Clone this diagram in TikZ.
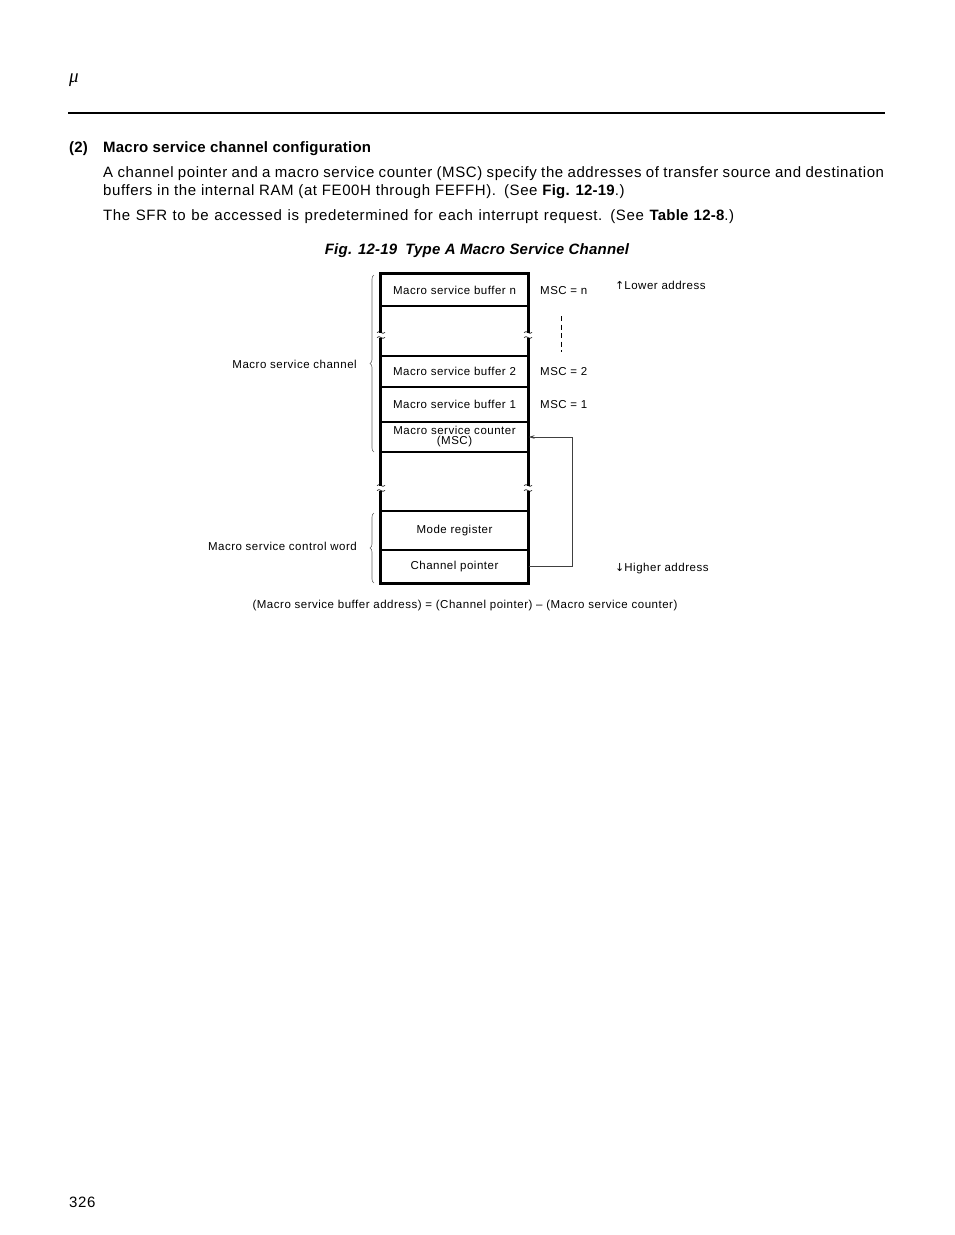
\documentclass[tikz,border=0pt]{standalone}
\usepackage{fontspec}
\setmainfont{Liberation Sans}
\newfontfamily\bodyfont[LetterSpace=4.0]{Liberation Sans}
\newfontfamily\headfont[LetterSpace=1.5]{Liberation Sans}
\newfontfamily\lblfont[LetterSpace=4.5]{Liberation Sans}
\newfontfamily\arrowfont{DejaVu Sans}
\newfontfamily\mufont{Liberation Serif}
\usetikzlibrary{decorations.pathreplacing,arrows.meta}
\begin{document}
\begin{tikzpicture}[x=1pt,y=-1pt,
  cell/.style={draw, line width=1.1pt, minimum width=147pt, inner sep=0pt, font=\lblfont\fontsize{11.5}{11.5}\selectfont, align=center},
  lbl/.style={font=\lblfont\fontsize{11.5}{12}\selectfont, inner sep=0pt},
  body/.style={font=\bodyfont\fontsize{15}{17}\selectfont, inner sep=0pt, anchor=west},
  bracestyle/.style={draw=black!60, line width=0.6pt, decorate, decoration={brace, amplitude=4pt}},
  frame/.style={line width=2.3pt},
  conn/.style={draw=black!75, line width=0.8pt}]
\useasboundingbox[fill=white] (0,0) rectangle (954,1235);

% header
\node[inner sep=0pt, font=\mufont\itshape\fontsize{19}{19}\selectfont] (mu) at (74,80) {μ};
\draw[line width=2.5pt] (68,113) -- (885,113);

\node[body, font=\headfont\fontsize{15}{17}\selectfont\bfseries] (num) at (69,149) {(2)};
\node[body, font=\headfont\fontsize{15}{17}\selectfont\bfseries] (head) at (103,149) {Macro service channel configuration};
\node[body] (l1) at (103,174) {\makebox[781pt][s]{A channel pointer and a macro service counter (MSC) specify the addresses of transfer source and destination}};
\node[body] (l2) at (103,192) {buffers in the internal RAM (at FE00H through FEFFH).\hspace{8pt}(See {\headfont\bfseries Fig. 12-19}.)};
\node[body] (l3) at (103,217) {\makebox[631pt][s]{The SFR to be accessed is predetermined for each interrupt request.\hspace{8pt}(See {\headfont\bfseries Table 12-8}.)}};

\node[inner sep=0pt, font=\headfont\fontsize{15}{17}\selectfont\bfseries\itshape] (cap) at (477,251) {Fig. 12-19\hspace{8pt}Type A Macro Service Channel};

% cells
\node[cell, minimum height=32pt] (bn) at (454.5,290) {Macro service buffer n};
\node[cell, minimum height=50pt] (g1) at (454.5,331) {};
\node[cell, minimum height=31pt] (b2) at (454.5,371.5) {Macro service buffer 2};
\node[cell, minimum height=35pt] (b1) at (454.5,404.5) {Macro service buffer 1};
\node[cell, minimum height=30pt] (msc) at (454.5,437) {Macro service counter\\[-1.5pt](MSC)};
\node[cell, minimum height=59pt] (g2) at (454.5,481.5) {};
\node[cell, minimum height=39pt] (mode) at (454.5,530.5) {Mode register};
\node[cell, minimum height=33pt] (cp) at (454.5,566.5) {Channel pointer};
\draw[frame] (bn.north west) rectangle (cp.south east);

% break marks
\foreach \bx/\by in {381/335, 528/335, 381/488, 528/488}{
  \fill[white] (\bx-3,\by-2.5) rectangle (\bx+3,\by+2.5);
  \draw[line width=0.6pt] (\bx-4,\by-2.5) .. controls (\bx-1,\by-5.5) and (\bx+1,\by+0.5) .. (\bx+4,\by-2.5);
  \draw[line width=0.6pt] (\bx-4,\by+2.5) .. controls (\bx-1,\by-0.5) and (\bx+1,\by+5.5) .. (\bx+4,\by+2.5);
}

% braces
\coordinate (c1b) at (374,452);
\coordinate (c1t) at (374,275);
\coordinate (c2b) at (374,583);
\coordinate (c2t) at (374,513);
\draw[bracestyle] (c1b) -- (c1t);
\draw[bracestyle] (c2b) -- (c2t);
\node[lbl, anchor=east] (chan) at (357,364) {Macro service channel};
\node[lbl, anchor=east] (ctrl) at (357,546) {Macro service control word};

% MSC labels
\node[lbl, anchor=west] (mn) at (540,291) {MSC = n};
\node[lbl, anchor=west] (m2) at (540,372) {MSC = 2};
\node[lbl, anchor=west] (m1) at (540,405) {MSC = 1};
\coordinate (dt) at (561,316);
\coordinate (db) at (561,352);
\draw[line width=0.8pt, dash pattern=on 5pt off 3.5pt] (dt) -- (db);

% arrow
\draw[conn, -{Stealth[length=6pt,width=3.5pt]}] (cp.east) -- ++(44,0) |- (msc.east);

\node[lbl, anchor=west] (low) at (615,285) {{\arrowfont\fontsize{11}{12}\selectfont ↑}Lower address};
\node[lbl, anchor=west] (high) at (615,569) {{\arrowfont\fontsize{11}{12}\selectfont ↓}Higher address};

\node[lbl] (note) at (465,606) {(Macro service buffer address) = (Channel pointer) – (Macro service counter)};

\node[body] (page) at (69,1202) {326};
\end{tikzpicture}
\end{document}
